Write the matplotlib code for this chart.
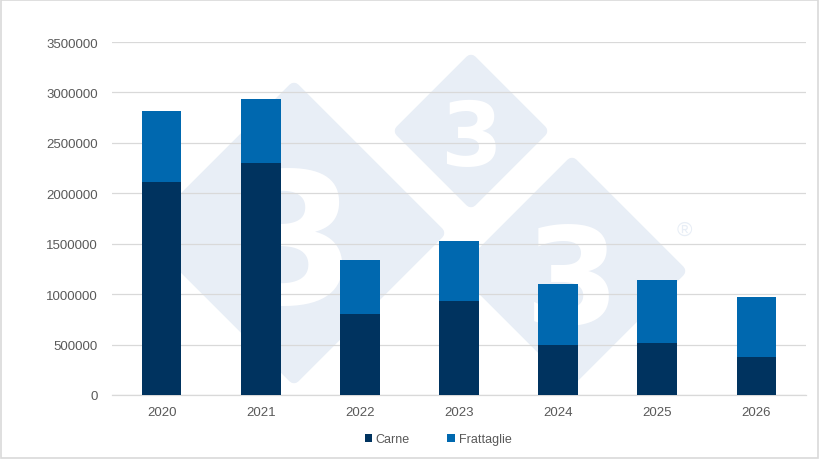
"""Stacked bars: Carne vs Frattaglie, 2020-2026, with the light 3tres3-style watermark."""

import matplotlib

matplotlib.use("Agg")
import matplotlib.pyplot as plt
from matplotlib.patches import Polygon, Rectangle

years = ["2020", "2021", "2022", "2023", "2024", "2025", "2026"]
carne = [2110000, 2300000, 803000, 932000, 497000, 517000, 381000]
frattaglie = [706000, 636000, 537000, 596000, 605000, 627000, 589000]
y_ticks = [0, 500000, 1000000, 1500000, 2000000, 2500000, 3000000, 3500000]

CARNE_COL = "#00335F"
FRATT_COL = "#0068AF"
WM_COL = "#E8EEF6"
TXT_COL = "#595959"

W, H = 820, 460


def px(x, y):
    # pixel (from top-left) -> figure fraction
    return x / W, 1 - y / H


def diamond(fig, cx, cy, r):
    pts = [px(cx, cy - r), px(cx + r, cy), px(cx, cy + r), px(cx - r, cy)]
    fig.patches.append(
        Polygon(pts, closed=True, transform=fig.transFigure, facecolor=WM_COL,
                edgecolor=WM_COL, linewidth=9, joinstyle="round", zorder=-1)
    )


def main() -> None:
    plt.rcParams["font.family"] = ["Liberation Sans", "DejaVu Sans"]
    fig = plt.figure(figsize=(W / 100, H / 100), dpi=100)

    # watermark (behind the axes)
    for cx, cy, r, size in [(294, 234, 144, 130), (471, 132, 70, 64), (572, 272, 107, 98)]:
        diamond(fig, cx, cy, r)
        fx, fy = px(cx, cy)
        fig.text(fx, fy, "3", color="white", fontsize=size, fontweight="bold",
                 family="DejaVu Sans", ha="center", va="center_baseline", zorder=-0.5)
    fx, fy = px(684, 230)
    fig.text(fx, fy, "\u00ae", color=WM_COL, fontsize=15, ha="center", va="center", zorder=-0.5)

    # light border around the picture
    fig.patches.append(Rectangle((0.001, 0.002), 0.997, 0.996, transform=fig.transFigure,
                                 fill=False, edgecolor="#D9D9D9", linewidth=1.2, zorder=5))

    ax = fig.add_axes([112 / W, 1 - 396 / H, (806 - 112) / W, (396 - 43) / H])
    ax.patch.set_alpha(0)

    x = range(len(years))
    ax.bar(x, carne, width=0.4, color=CARNE_COL, label="Carne", zorder=3)
    ax.bar(x, frattaglie, width=0.4, bottom=carne, color=FRATT_COL, label="Frattaglie", zorder=3)

    ax.set_xlim(-0.5, len(years) - 0.5)
    ax.set_ylim(0, 3500000)
    ax.set_yticks(y_ticks)
    ax.set_yticklabels([str(v) for v in y_ticks])
    ax.set_xticks(list(x))
    ax.set_xticklabels(years)
    ax.tick_params(axis="both", length=0, labelsize=9.5, labelcolor=TXT_COL)
    ax.tick_params(axis="y", pad=10)
    ax.tick_params(axis="x", pad=8)
    ax.yaxis.grid(True, color="#D9D9D9", linewidth=0.9, zorder=1)
    ax.set_axisbelow(False)
    for side in ("top", "right", "left"):
        ax.spines[side].set_visible(False)
    ax.spines["bottom"].set_color("#D9D9D9")
    ax.spines["bottom"].set_linewidth(0.9)

    fig.legend(loc="center", bbox_to_anchor=(438 / W, 1 - 440 / H), ncol=2, frameon=False,
               fontsize=9, labelcolor=TXT_COL, handlelength=0.6, handleheight=0.6,
               handletextpad=0.3, columnspacing=3.0)

    fig.savefig("out.png", dpi=100)
    plt.close(fig)


if __name__ == "__main__":
    main()
